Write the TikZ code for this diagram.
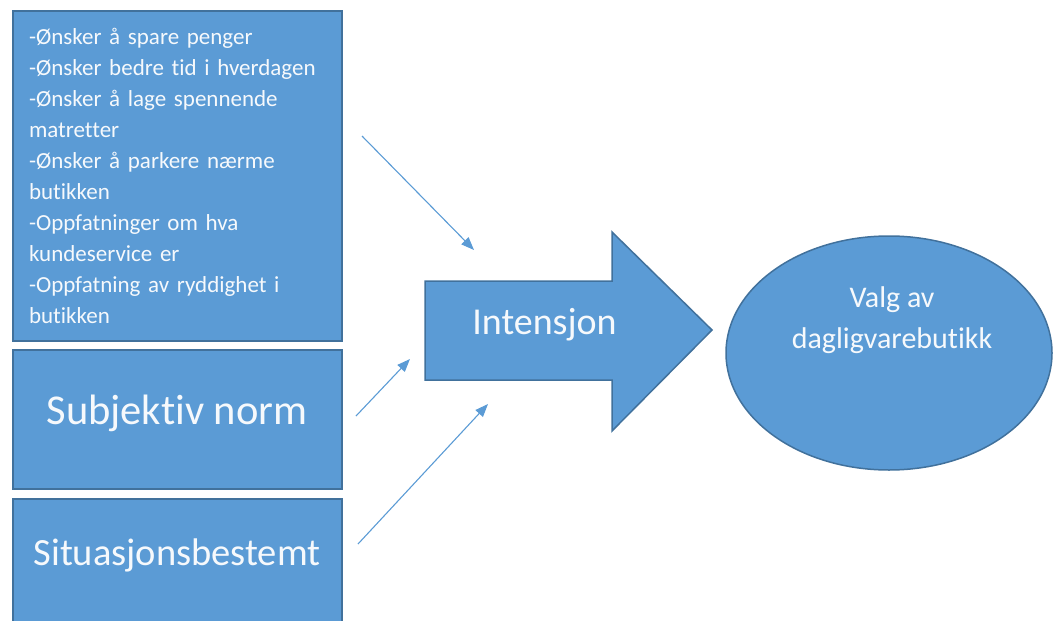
\documentclass[tikz,border=0pt]{standalone}
\usepackage{fontspec}
\setmainfont{Carlito}[Ligatures=NoCommon]
\usetikzlibrary{arrows.meta,shapes.geometric}
\definecolor{fillblue}{HTML}{5B9BD5}
\definecolor{edgeblue}{HTML}{41719C}
\definecolor{linkblue}{HTML}{5B9BD5}
\definecolor{paper}{HTML}{F6F9FC}
\tikzset{
  panel/.style={draw=edgeblue, line width=1.5pt, fill=fillblue, inner sep=0pt,
    minimum width=329pt, text=paper},
  label/.style={text=paper, inner sep=0pt},
  link/.style={draw=linkblue, line width=1.1pt,
    -{Triangle[length=13pt,width=10pt]}},
}
\begin{document}
\begin{tikzpicture}[x=1pt,y=-1pt]
\useasboundingbox (0,0) rectangle (1063,621);
\clip (0,0) rectangle (1063,621);

% left column: three factor boxes
\node[panel, minimum height=330pt, align=left, font=\fontsize{23}{31}\selectfont,
      text width=297pt, inner xsep=16pt] (attitude) at (177.5,176)
  {-Ønsker å spare penger\\
   -Ønsker bedre tid i hverdagen\\
   -Ønsker å lage spennende\\
   matretter\\
   -Ønsker å parkere nærme\\
   butikken\\
   -Oppfatninger om hva\\
   kundeservice er\\
   -Oppfatning av ryddighet i\\
   butikken};
\node[panel, minimum height=139pt] (normbox) at (177.5,419.5) {};
\node[label, font=\fontsize{42.5}{50}\selectfont] (norm) at (177,413) {Subjektiv norm};
\node[panel, minimum height=151pt] (situbox) at (177.5,574.5) {};
\node[label, font=\fontsize{38.5}{46}\selectfont] (situ) at (177,555) {Situasjonsbestemt};

% block arrow for the intention
\draw[draw=edgeblue, line width=1.5pt, fill=fillblue]
  (425,281) -- (612,281) -- (612,232) -- (712,330) -- (612,431)
  -- (612,380) -- (425,380) -- cycle;
\node[label, font=\fontsize{38}{44}\selectfont] (intent) at (544.5,325) {Intensjon};

% outcome ellipse
\node[ellipse, draw=edgeblue, line width=1.5pt, fill=fillblue, inner sep=0pt,
      minimum width=326pt, minimum height=234pt] (choice) at (889,353) {};
\node[label, align=center, font=\fontsize{30}{41}\selectfont] (choicetext)
  at (892,320) {Valg av\\dagligvarebutikk};

% influence arrows
\coordinate (a1s) at (362,136);
\coordinate (a1e) at (474,250);
\coordinate (a2s) at (356,416);
\coordinate (a2e) at (410,359);
\coordinate (a3s) at (358,544);
\coordinate (a3e) at (488,404);
\draw[link] (a1s) -- (a1e);
\draw[link] (a2s) -- (a2e);
\draw[link] (a3s) -- (a3e);
\end{tikzpicture}
\end{document}
